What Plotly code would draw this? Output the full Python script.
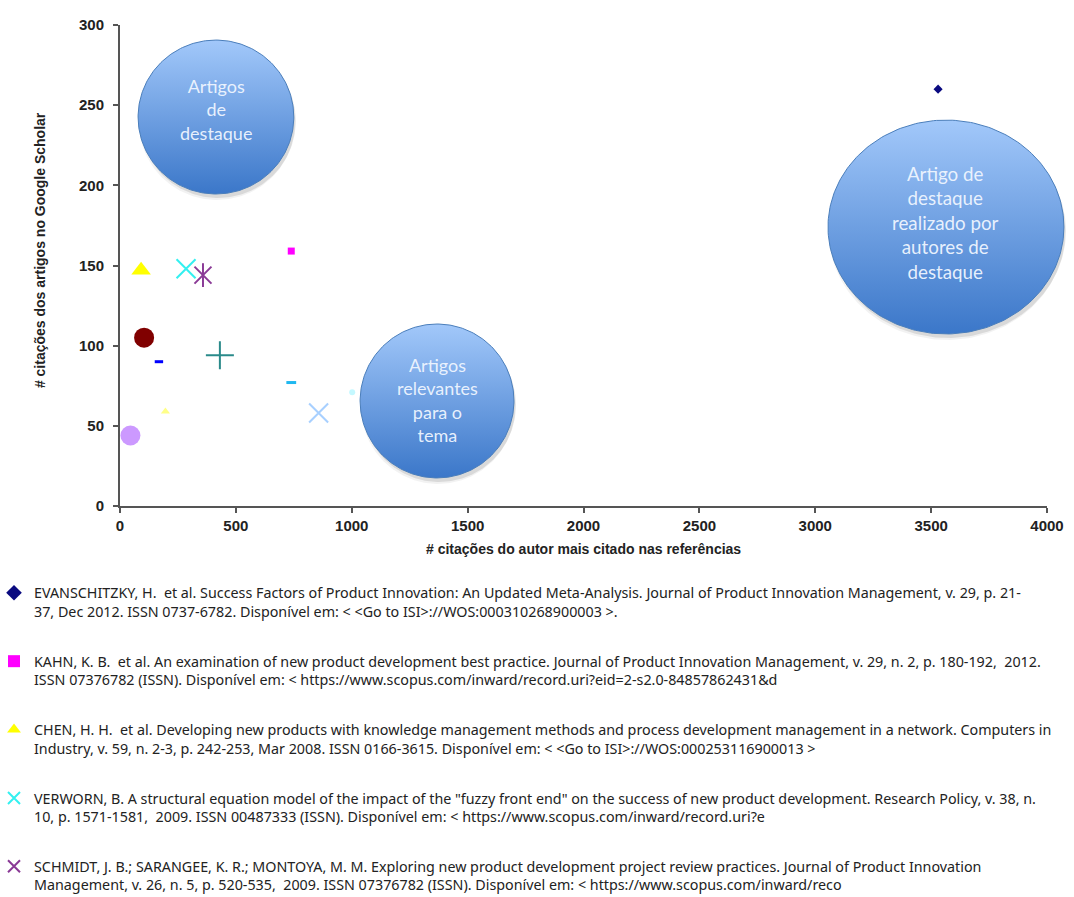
import numpy as np
import plotly.graph_objects as go

# ---------------- data ----------------
# legended series
legend_names = [
    "EVANSCHITZKY, H.  et al. Success Factors of Product Innovation: An Updated Meta-Analysis. Journal of Product Innovation Management, v. 29, p. 21-<br>37, Dec 2012. ISSN 0737-6782. Disponível em: < <Go to ISI>://WOS:000310268900003 >.",
    "KAHN, K. B.  et al. An examination of new product development best practice. Journal of Product Innovation Management, v. 29, n. 2, p. 180-192,  2012.<br>ISSN 07376782 (ISSN). Disponível em: < https://www.scopus.com/inward/record.uri?eid=2-s2.0-84857862431&d",
    "CHEN, H. H.  et al. Developing new products with knowledge management methods and process development management in a network. Computers in<br>Industry, v. 59, n. 2-3, p. 242-253, Mar 2008. ISSN 0166-3615. Disponível em: < <Go to ISI>://WOS:000253116900013 >",
    "VERWORN, B. A structural equation model of the impact of the \"fuzzy front end\" on the success of new product development. Research Policy, v. 38, n.<br>10, p. 1571-1581,  2009. ISSN 00487333 (ISSN). Disponível em: < https://www.scopus.com/inward/record.uri?e",
    "SCHMIDT, J. B.; SARANGEE, K. R.; MONTOYA, M. M. Exploring new product development project review practices. Journal of Product Innovation<br>Management, v. 26, n. 5, p. 520-535,  2009. ISSN 07376782 (ISSN). Disponível em: < https://www.scopus.com/inward/reco",
]
legend_x = [3530, 739, 91, 285, 358]
legend_y = [260, 159, 147, 148, 144]

# other series (legend entries not visible in the picture)
other_x = [104, 168, 431, 196, 45, 739, 857, 1002]
other_y = [105, 90, 94, 59, 44, 77, 58, 71]

x_ticks = [0, 500, 1000, 1500, 2000, 2500, 3000, 3500, 4000]
y_ticks = [0, 50, 100, 150, 200, 250, 300]

bubble_texts = [
    "Artigos<br>de<br>destaque",
    "Artigos<br>relevantes<br>para o<br>tema",
    "Artigo de<br>destaque<br>realizado por<br>autores de<br>destaque",
]

x_title = "# citações do autor mais citado nas referências"
y_title = "# citações dos artigos no Google Scholar"

# ---------------- styles / positions ----------------
PURPLE = "#8A3A96"
legend_styles = [
    dict(symbol="diamond", size=7, color="#0A0A80"),
    dict(symbol="square", size=7, color="#FF00FF"),
    dict(symbol="triangle-up", size=17, color="#FFFF00"),
    dict(symbol="x-thin-open", size=19, color="#33F0F0", lw=2),
    dict(symbol="x-thin-open", size=17, color=PURPLE, lw=2),
]
other_styles = [
    dict(symbol="circle", size=20, color="#800000"),
    dict(symbol="line-ew-open", size=6, color="#0000FF", lw=3),
    dict(symbol="cross-thin-open", size=20, color="#2A8A8A", lw=2),
    dict(symbol="triangle-up", size=8, color="#FFFF88"),
    dict(symbol="circle", size=20, color="#CC99FF"),
    dict(symbol="line-ew-open", size=7, color="#1FB8F0", lw=3),
    dict(symbol="x-thin-open", size=19, color="#A8D0FF", lw=2),
    dict(symbol="circle", size=6, color="#C4F8FF"),
]
# bubble geometry in data units: center x, center y, radius x, radius y, text shift (px)
bubble_geom = [
    (414, 242.6, 336, 48, 8),
    (1368, 65.5, 332, 48, 1),
    (3564, 174, 509, 66.7, 5),
]
bubble_font_sizes = [18, 18, 18.8]

PLOT_W = 950          # pixel width of the full (invisible) overlay axis area
AXIS_W = 927          # pixel width of the visible x axis
X_MAX = 4000
PX_X = AXIS_W / X_MAX
PX_Y = 481 / 300


def marker_of(st):
    mk = dict(symbol=st["symbol"], size=st["size"], color=st["color"])
    if "lw" in st:
        mk["line"] = dict(width=st["lw"], color=st["color"])
    return mk


fig = go.Figure()

# legended markers
for name, x, y, st in zip(legend_names, legend_x, legend_y, legend_styles):
    fig.add_trace(go.Scatter(x=[x], y=[y], mode="markers", marker=marker_of(st), name=name,
                             legendgroup=name[:12], hoverinfo="x+y"))
# vertical stroke of the asterisk marker (SCHMIDT)
fig.add_trace(go.Scatter(x=[legend_x[4]], y=[legend_y[4]], mode="markers",
                         marker=dict(symbol="line-ns-open", size=17, color=PURPLE,
                                     line=dict(width=2, color=PURPLE)),
                         showlegend=False, legendgroup=legend_names[4][:12], hoverinfo="skip"))

for x, y, st in zip(other_x, other_y, other_styles):
    fig.add_trace(go.Scatter(x=[x], y=[y], mode="markers", marker=marker_of(st),
                             showlegend=False, hoverinfo="x+y"))

# bubbles (decorative callouts) on a wider, invisible overlay x axis so they are not clipped
theta = np.linspace(0, 2 * np.pi, 241)
for (cx, cy, rx, ry, _) in bubble_geom:
    for dxp, dyp, op in [(2, 4, 0.10), (1, 6, 0.05)]:
        fig.add_trace(go.Scatter(
            x=cx + dxp / PX_X + rx * np.cos(theta),
            y=cy - dyp / PX_Y + ry * np.sin(theta),
            xaxis="x2", yaxis="y",
            mode="lines", line=dict(width=0), fill="toself",
            fillcolor=f"rgba(0,0,0,{op})", showlegend=False, hoverinfo="skip"))
    fig.add_trace(go.Scatter(
        x=cx + rx * np.cos(theta), y=cy + ry * np.sin(theta),
        xaxis="x2", yaxis="y",
        mode="lines", line=dict(width=1, color="#4A7EBB"), fill="toself",
        fillgradient=dict(type="vertical", start=cy - ry, stop=cy + ry,
                          colorscale=[[0, "#3B77C9"], [1, "#A2C8FA"]]),
        showlegend=False, hoverinfo="skip"))

annotations = []
for (cx, cy, rx, ry, shift), txt, fs in zip(bubble_geom, bubble_texts, bubble_font_sizes):
    annotations.append(dict(x=cx, y=cy, xref="x", yref="y", text=txt, showarrow=False,
                            yshift=shift,
                            font=dict(family="Lato, Open Sans, sans-serif", size=fs,
                                      color="rgba(240,246,255,0.95)"),
                            align="center", xanchor="center", yanchor="middle"))
annotations.append(dict(x=(583.5 - 120) / PLOT_W, y=-0.0894, xref="paper", yref="paper",
                        text=x_title, showarrow=False, xanchor="center", yanchor="middle",
                        font=dict(family="Liberation Sans Narrow, Liberation Sans, Arial", size=14,
                                  color="#222222", weight="bold")))
annotations.append(dict(x=(40 - 120) / PLOT_W, y=0.532, xref="paper", yref="paper", text=y_title,
                        showarrow=False, xanchor="center", yanchor="middle", textangle=-90,
                        font=dict(family="Liberation Sans Narrow, Liberation Sans, Arial", size=14,
                                  color="#222222", weight="bold")))

tick_font = dict(family="Liberation Sans Narrow, Liberation Sans, Arial", size=15,
                 color="#222222", weight="bold")

fig.update_layout(
    width=1074, height=897,
    margin=dict(l=120, r=1074 - 120 - PLOT_W, t=25, b=391, autoexpand=False),
    paper_bgcolor="white", plot_bgcolor="rgba(0,0,0,0)",
    xaxis=dict(domain=[0, AXIS_W / PLOT_W], range=[0, X_MAX], tickvals=x_ticks,
               ticktext=[str(v) for v in x_ticks],
               showgrid=False, zeroline=False, showline=True, linecolor="#555555", linewidth=2,
               ticks="outside", ticklen=5, tickwidth=1.5, tickcolor="#555555",
               tickfont=tick_font, fixedrange=True, anchor="y"),
    xaxis2=dict(domain=[0, 1], range=[0, X_MAX * PLOT_W / AXIS_W], visible=False,
                showgrid=False, zeroline=False, fixedrange=True, anchor="y"),
    yaxis=dict(range=[0, 300], tickvals=y_ticks, ticktext=[str(v) for v in y_ticks],
               showgrid=False, zeroline=False, showline=True, linecolor="#555555", linewidth=2,
               ticks="outside", ticklen=5, tickwidth=1.5, tickcolor="#555555",
               tickfont=tick_font, ticklabelstandoff=6, fixedrange=True, anchor="x"),
    legend=dict(x=(-6 - 120) / PLOT_W, y=(506 - 577) / 481, xanchor="left", yanchor="top",
                orientation="v", valign="top", tracegroupgap=28.2, itemsizing="constant",
                font=dict(family="Noto Sans, Liberation Sans, Arial", size=14.3, color="#222222"),
                bgcolor="rgba(0,0,0,0)", traceorder="grouped"),
    annotations=annotations,
    showlegend=True,
)

fig.write_html("out.html")
